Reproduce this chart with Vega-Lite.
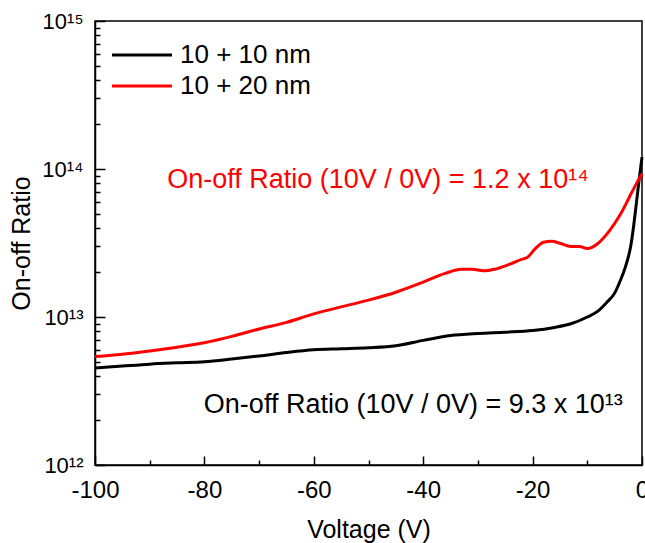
{
  "$schema": "https://vega.github.io/schema/vega-lite/v6.json",
  "width": 547,
  "height": 444,
  "autosize": "none",
  "padding": {"left": 95, "top": 21, "right": 3, "bottom": 78},
  "background": "white",
  "config": {
    "font": "Liberation Sans",
    "view": {"stroke": "black", "strokeWidth": 1.5},
    "axis": {"grid": false, "domainColor": "black", "domainWidth": 1.5, "tickColor": "black", "tickWidth": 1.5, "labelColor": "black", "titleColor": "black", "labelFont": "Liberation Sans", "titleFont": "Liberation Sans", "labelFontSize": 24, "titleFontSize": 25, "titleFontWeight": "normal"}
  },
  "datasets": {
    "curves": [
      {"V": -100, "R": 4.52e12, "s": "10 + 10 nm"},
      {"V": -95, "R": 4.66e12, "s": "10 + 10 nm"},
      {"V": -90, "R": 4.8e12, "s": "10 + 10 nm"},
      {"V": -85, "R": 4.9e12, "s": "10 + 10 nm"},
      {"V": -80, "R": 4.99e12, "s": "10 + 10 nm"},
      {"V": -75, "R": 5.2e12, "s": "10 + 10 nm"},
      {"V": -70, "R": 5.45e12, "s": "10 + 10 nm"},
      {"V": -65, "R": 5.75e12, "s": "10 + 10 nm"},
      {"V": -60, "R": 6.0e12, "s": "10 + 10 nm"},
      {"V": -55, "R": 6.1e12, "s": "10 + 10 nm"},
      {"V": -50, "R": 6.2e12, "s": "10 + 10 nm"},
      {"V": -45, "R": 6.4e12, "s": "10 + 10 nm"},
      {"V": -40, "R": 6.95e12, "s": "10 + 10 nm"},
      {"V": -35, "R": 7.5e12, "s": "10 + 10 nm"},
      {"V": -30, "R": 7.75e12, "s": "10 + 10 nm"},
      {"V": -25, "R": 7.9e12, "s": "10 + 10 nm"},
      {"V": -20, "R": 8.1e12, "s": "10 + 10 nm"},
      {"V": -16, "R": 8.5e12, "s": "10 + 10 nm"},
      {"V": -13, "R": 9.0e12, "s": "10 + 10 nm"},
      {"V": -10, "R": 1.0e13, "s": "10 + 10 nm"},
      {"V": -8, "R": 1.1e13, "s": "10 + 10 nm"},
      {"V": -6.5, "R": 1.25e13, "s": "10 + 10 nm"},
      {"V": -5, "R": 1.45e13, "s": "10 + 10 nm"},
      {"V": -4, "R": 1.75e13, "s": "10 + 10 nm"},
      {"V": -3, "R": 2.2e13, "s": "10 + 10 nm"},
      {"V": -2, "R": 3.1e13, "s": "10 + 10 nm"},
      {"V": -1.5, "R": 4.2e13, "s": "10 + 10 nm"},
      {"V": -1, "R": 6.0e13, "s": "10 + 10 nm"},
      {"V": -0.5, "R": 8.6e13, "s": "10 + 10 nm"},
      {"V": 0, "R": 1.2e14, "s": "10 + 10 nm"},
      {"V": -100, "R": 5.4e12, "s": "10 + 20 nm"},
      {"V": -95, "R": 5.6e12, "s": "10 + 20 nm"},
      {"V": -90, "R": 5.9e12, "s": "10 + 20 nm"},
      {"V": -85, "R": 6.25e12, "s": "10 + 20 nm"},
      {"V": -80, "R": 6.7e12, "s": "10 + 20 nm"},
      {"V": -75, "R": 7.4e12, "s": "10 + 20 nm"},
      {"V": -70, "R": 8.3e12, "s": "10 + 20 nm"},
      {"V": -65, "R": 9.2e12, "s": "10 + 20 nm"},
      {"V": -60, "R": 1.05e13, "s": "10 + 20 nm"},
      {"V": -55, "R": 1.17e13, "s": "10 + 20 nm"},
      {"V": -50, "R": 1.3e13, "s": "10 + 20 nm"},
      {"V": -45, "R": 1.47e13, "s": "10 + 20 nm"},
      {"V": -40, "R": 1.72e13, "s": "10 + 20 nm"},
      {"V": -36, "R": 1.97e13, "s": "10 + 20 nm"},
      {"V": -33, "R": 2.1e13, "s": "10 + 20 nm"},
      {"V": -31, "R": 2.1e13, "s": "10 + 20 nm"},
      {"V": -29, "R": 2.05e13, "s": "10 + 20 nm"},
      {"V": -27, "R": 2.1e13, "s": "10 + 20 nm"},
      {"V": -24.5, "R": 2.25e13, "s": "10 + 20 nm"},
      {"V": -22, "R": 2.45e13, "s": "10 + 20 nm"},
      {"V": -21, "R": 2.52e13, "s": "10 + 20 nm"},
      {"V": -19.5, "R": 2.9e13, "s": "10 + 20 nm"},
      {"V": -18, "R": 3.2e13, "s": "10 + 20 nm"},
      {"V": -16.5, "R": 3.25e13, "s": "10 + 20 nm"},
      {"V": -15, "R": 3.15e13, "s": "10 + 20 nm"},
      {"V": -13, "R": 3.0e13, "s": "10 + 20 nm"},
      {"V": -11.5, "R": 3.0e13, "s": "10 + 20 nm"},
      {"V": -10, "R": 2.9e13, "s": "10 + 20 nm"},
      {"V": -8, "R": 3.15e13, "s": "10 + 20 nm"},
      {"V": -6, "R": 3.8e13, "s": "10 + 20 nm"},
      {"V": -4, "R": 4.9e13, "s": "10 + 20 nm"},
      {"V": -2, "R": 6.8e13, "s": "10 + 20 nm"},
      {"V": -1, "R": 8.0e13, "s": "10 + 20 nm"},
      {"V": 0, "R": 9.3e13, "s": "10 + 20 nm"}
    ],
    "notes": [
      {"V": -86.8, "R": 8.4e13, "label": "On-off Ratio (10V / 0V) = 1.2 x 10¹⁴", "c": "red"},
      {"V": -80.1, "R": 2.54e12, "label": "On-off Ratio (10V / 0V) = 9.3 x 10¹³", "c": "black"}
    ]
  },
  "layer": [
    {
      "data": {"name": "curves"},
      "mark": {"type": "line", "strokeWidth": 3, "interpolate": "monotone"},
      "encoding": {
        "x": {
          "field": "V", "type": "quantitative",
          "scale": {"domain": [-100, 0], "nice": false, "zero": false},
          "axis": {
            "title": "Voltage (V)",
            "values": [-100, -90, -80, -70, -60, -50, -40, -30, -20, -10, 0],
            "labelExpr": "datum.value % 20 == 0 ? toString(datum.value) : ''",
            "tickSize": {"condition": {"test": "datum.value % 20 == 0", "value": -9}, "value": -5},
            "labelPadding": 22,
            "titlePadding": 15,
            "labelFlush": false
          }
        },
        "y": {
          "field": "R", "type": "quantitative",
          "scale": {"type": "log", "domain": [1e12, 1e15], "nice": false},
          "axis": {
            "title": "On-off Ratio",
            "titleX": -66,
            "titleY": 222,
            "titleBaseline": "alphabetic",
            "titleAlign": "center",
            "values": [1e12, 2e12, 3e12, 4e12, 5e12, 6e12, 7e12, 8e12, 9e12, 1e13, 2e13, 3e13, 4e13, 5e13, 6e13, 7e13, 8e13, 9e13, 1e14, 2e14, 3e14, 4e14, 5e14, 6e14, 7e14, 8e14, 9e14, 1e15],
            "labelExpr": "datum.value == 1e12 ? '10¹²' : datum.value == 1e13 ? '10¹³' : datum.value == 1e14 ? '10¹⁴' : datum.value == 1e15 ? '10¹⁵' : ''",
            "tickSize": {"condition": {"test": "datum.value == 1e12 || datum.value == 1e13 || datum.value == 1e14 || datum.value == 1e15", "value": -10}, "value": -5},
            "labelFontSize": 22,
            "labelPadding": 22,
            "labelFlush": false
          }
        },
        "color": {
          "field": "s", "type": "nominal",
          "scale": {"domain": ["10 + 10 nm", "10 + 20 nm"], "range": ["black", "red"]},
          "legend": {
            "title": null,
            "orient": "none",
            "legendX": 34,
            "legendY": 21,
            "symbolType": "M-3,0H3",
            "symbolSize": 400,
            "symbolStrokeWidth": 3,
            "labelFontSize": 26,
            "labelFont": "Liberation Sans",
            "labelColor": "black",
            "labelOffset": 25,
            "rowPadding": 5
          }
        }
      }
    },
    {
      "data": {"name": "notes"},
      "mark": {"type": "text", "align": "left", "baseline": "middle", "fontSize": 27, "font": "Liberation Sans"},
      "encoding": {
        "x": {"field": "V", "type": "quantitative"},
        "y": {"field": "R", "type": "quantitative"},
        "text": {"field": "label"},
        "color": {"field": "c", "type": "nominal", "scale": null}
      }
    }
  ]
}
